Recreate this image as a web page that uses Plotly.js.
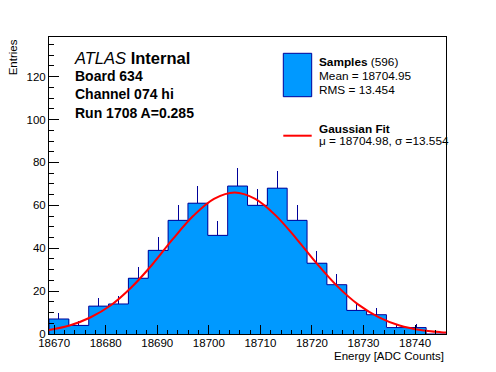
<!DOCTYPE html>
<html>
<head>
<meta charset="utf-8">
<script src="https://cdn.plot.ly/plotly-3.0.1.min.js"></script>
<style>html,body{margin:0;padding:0;background:#fff;}#plot{width:496px;height:372px;}</style>
</head>
<body>
<div id="plot"></div>
<script>
// Histogram definition
const binStart = 18669;
const binWidth = 3.85;
const counts = [7, 4, 13, 14, 26, 39, 53, 61, 46, 69, 60, 68, 53, 33, 23, 11, 9, 3, 3, 0];

// Gaussian fit curve
const fitX = [18669, 18673, 18677, 18681, 18685, 18689, 18693, 18697, 18701, 18705, 18709, 18713, 18717, 18721, 18725, 18729, 18733, 18737, 18741, 18745, 18746];
const fitY = [1.9, 4.0, 7.7, 13.4, 21.8, 32.3, 44.2, 55.1, 63.0, 66.0, 63.0, 55.2, 44.4, 32.7, 22.1, 13.7, 7.8, 4.0, 1.9, 0.85, 0.7];

// Tick labels
const xTicks = [18670, 18680, 18690, 18700, 18710, 18720, 18730, 18740];
const yTicks = [0, 20, 40, 60, 80, 100, 120];

const edges = counts.map((c, i) => binStart + i * binWidth).concat([binStart + counts.length * binWidth]);
const centers = counts.map((c, i) => binStart + (i + 0.5) * binWidth);

const stepX = [edges[0]].concat(edges.slice(0, counts.length)).concat([edges[counts.length], edges[counts.length]]);
const stepY = [0].concat(counts).concat([counts[counts.length - 1], 0]);

const FILL = '#0099ff';
const NAVY = '#000099';
const FONT = 'Helvetica, "Liberation Sans", Arial, sans-serif';

const traces = [
  {
    type: 'bar', x: centers, y: counts, width: binWidth,
    marker: {color: FILL, line: {width: 0}},
    error_y: {type: 'data', array: counts.map(c => Math.sqrt(c)), arrayminus: counts.map(() => 0),
              symmetric: false, color: NAVY, thickness: 1, width: 0},
    hoverinfo: 'skip', showlegend: false
  },
  {
    type: 'scatter', mode: 'lines', x: stepX, y: stepY,
    line: {color: NAVY, width: 1, shape: 'hv'}, hoverinfo: 'skip', showlegend: false
  },
  {
    type: 'scatter', mode: 'lines', x: fitX, y: fitY,
    line: {color: '#ff0000', width: 2, shape: 'spline'}, hoverinfo: 'skip', showlegend: false
  }
];

function px2x(px) { return (px - 49) / 397; }
function py2y(py) { return (334 - py) / 297; }

const layout = {
  width: 496, height: 372,
  margin: {l: 49, r: 50, t: 37, b: 38, pad: 0},
  paper_bgcolor: '#fff', plot_bgcolor: '#fff',
  font: {family: FONT, color: '#000', size: 11.5},
  showlegend: false,
  bargap: 0,
  xaxis: {
    range: [binStart, binStart + counts.length * binWidth],
    tickmode: 'array', tickvals: xTicks, ticktext: xTicks.map(String),
    ticks: 'inside', ticklen: 9, tickcolor: '#000', tickwidth: 1,
    ticklabelstandoff: -2,
    minor: {dtick: 2, tick0: 18670, ticks: 'inside', ticklen: 4.5, tickcolor: '#000', tickwidth: 1},
    showgrid: false, zeroline: false, showline: true, mirror: true, linecolor: '#000', linewidth: 1,
    tickfont: {size: 11.5, family: FONT}
  },
  yaxis: {
    range: [0, 138.5],
    tickmode: 'array', tickvals: yTicks, ticktext: yTicks.map(String),
    ticks: 'inside', ticklen: 10, tickcolor: '#000', tickwidth: 1,
    minor: {dtick: 5, tick0: 0, ticks: 'inside', ticklen: 5, tickcolor: '#000', tickwidth: 1},
    showgrid: false, zeroline: false, showline: true, mirror: true, linecolor: '#000', linewidth: 1,
    tickfont: {size: 11.5, family: FONT}
  },
  shapes: [
    {type: 'rect', xref: 'paper', yref: 'paper', x0: px2x(283.3), x1: px2x(311.7), y0: py2y(96.7), y1: py2y(53.3),
     fillcolor: FILL, line: {color: NAVY, width: 1}},
    {type: 'line', xref: 'paper', yref: 'paper', x0: px2x(283.3), x1: px2x(311.7), y0: py2y(135.7), y1: py2y(135.7),
     line: {color: '#ff0000', width: 2}}
  ],
  annotations: [
    {xref: 'paper', yref: 'paper', x: px2x(72), y: py2y(58.3), xanchor: 'left', yanchor: 'middle', showarrow: false,
     text: '<i>ATLAS</i> <b>Internal</b>', font: {size: 16.5, family: FONT}},
    {xref: 'paper', yref: 'paper', x: px2x(72.5), y: py2y(76), xanchor: 'left', yanchor: 'middle', showarrow: false,
     text: '<b>Board 634</b>', font: {size: 14, family: FONT}},
    {xref: 'paper', yref: 'paper', x: px2x(72.5), y: py2y(94.3), xanchor: 'left', yanchor: 'middle', showarrow: false,
     text: '<b>Channel 074 hi</b>', font: {size: 14, family: FONT}},
    {xref: 'paper', yref: 'paper', x: px2x(72.5), y: py2y(112.7), xanchor: 'left', yanchor: 'middle', showarrow: false,
     text: '<b>Run 1708 A=0.285</b>', font: {size: 14, family: FONT}},
    {xref: 'paper', yref: 'paper', x: px2x(316.5), y: py2y(61.7), xanchor: 'left', yanchor: 'middle', showarrow: false,
     text: '<b>Samples</b> (596)', font: {size: 11.8, family: FONT}},
    {xref: 'paper', yref: 'paper', x: px2x(316.5), y: py2y(76), xanchor: 'left', yanchor: 'middle', showarrow: false,
     text: 'Mean = 18704.95', font: {size: 11.8, family: FONT}},
    {xref: 'paper', yref: 'paper', x: px2x(316.5), y: py2y(90), xanchor: 'left', yanchor: 'middle', showarrow: false,
     text: 'RMS = 13.454', font: {size: 11.8, family: FONT}},
    {xref: 'paper', yref: 'paper', x: px2x(316.5), y: py2y(128.8), xanchor: 'left', yanchor: 'middle', showarrow: false,
     text: '<b>Gaussian Fit</b>', font: {size: 11.8, family: FONT}},
    {xref: 'paper', yref: 'paper', x: px2x(316.5), y: py2y(141.2), xanchor: 'left', yanchor: 'middle', showarrow: false,
     text: 'μ = 18704.98, σ =13.554', font: {size: 11.8, family: FONT}},
    {xref: 'paper', yref: 'paper', x: 1, y: py2y(356), xanchor: 'right', yanchor: 'middle', showarrow: false,
     text: 'Energy [ADC Counts]', font: {size: 11.5, family: FONT}},
    {xref: 'paper', yref: 'paper', x: px2x(13.3), y: 1, xanchor: 'center', yanchor: 'top', showarrow: false,
     textangle: -90, text: 'Entries', font: {size: 11.5, family: FONT}}
  ]
};

Plotly.newPlot('plot', traces, layout, {staticPlot: true, displayModeBar: false});
</script>
</body>
</html>
